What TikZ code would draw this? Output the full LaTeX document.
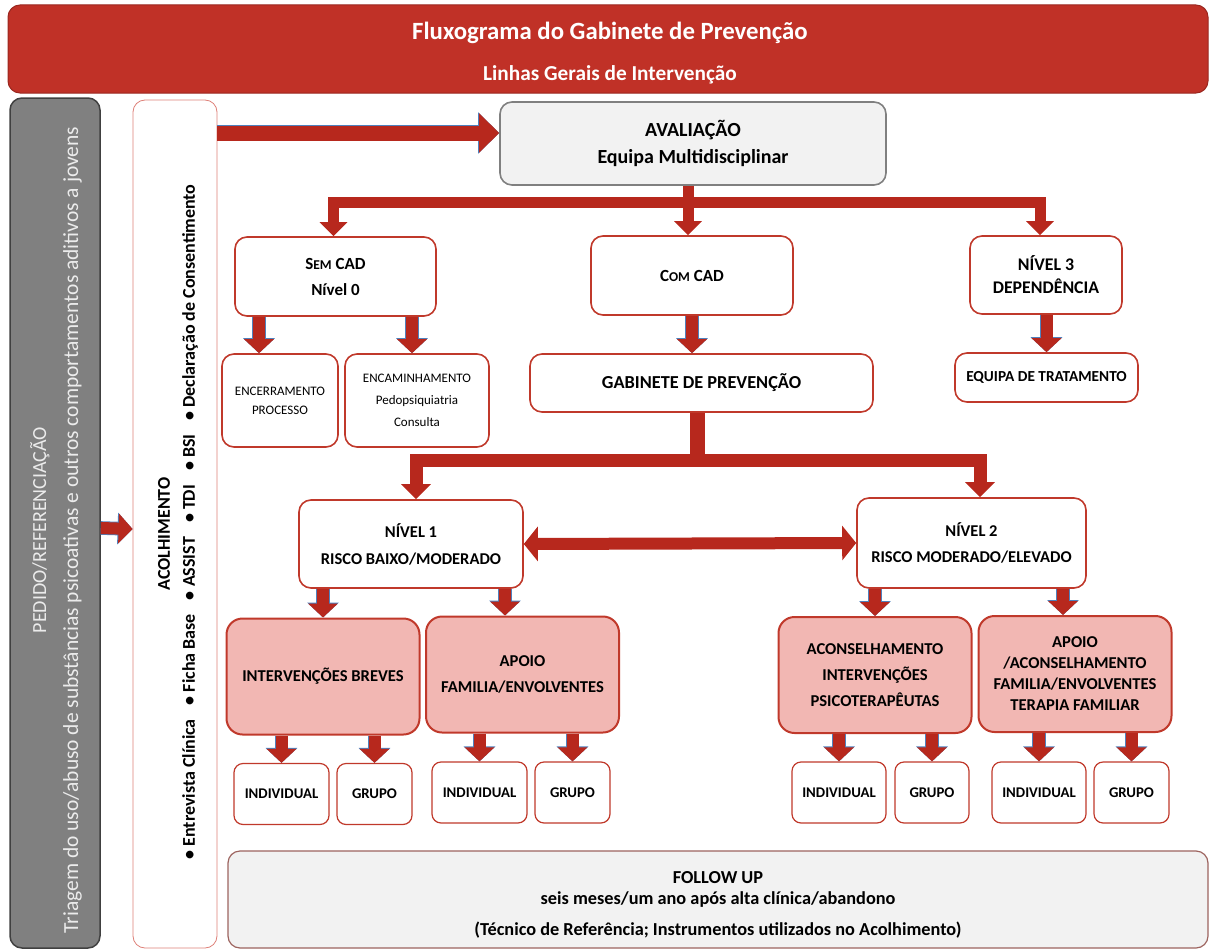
\documentclass[tikz,border=0pt]{standalone}
\usepackage{fontspec}
\setmainfont{Carlito}
\usetikzlibrary{arrows.meta,calc}
\definecolor{bannerred}{RGB}{192,49,39}
\definecolor{arrowred}{RGB}{183,40,29}
\definecolor{boxred}{RGB}{192,57,43}
\definecolor{pinkfill}{RGB}{242,183,179}
\definecolor{lightred}{RGB}{222,128,120}
\definecolor{bargray}{RGB}{128,128,128}
\definecolor{palegray}{RGB}{242,242,242}
\definecolor{blueline}{RGB}{79,129,189}
\newcommand{\fs}[2]{\fontsize{#1}{#2}\selectfont}

\begin{document}
\begin{tikzpicture}[x=1pt, y=-1pt,
    banner/.style={rectangle, draw=bannerred!80!black, fill=bannerred, line width=1pt, rounded corners=12pt},
    bannertext/.style={text=white, inner sep=0pt},
    sidebar/.style={rectangle, draw=black!75, fill=bargray, line width=1.5pt, rounded corners=12pt},
    intake/.style={rectangle, draw=lightred, fill=white, line width=0.8pt, rounded corners=12pt},
    component/.style={rectangle, draw=boxred, line width=1.6pt, fill=white, rounded corners=12pt, align=center, inner sep=2pt, font=\bfseries\fs{17}{26}},
    action/.style={component, fill=pinkfill, line width=2pt, rounded corners=16pt, minimum width=193pt, minimum height=116pt, font=\bfseries\fs{16.6}{26}},
    leaf/.style={component, line width=1.2pt, rounded corners=9pt, minimum height=61pt, font=\bfseries\fs{14.8}{16}},
    followbox/.style={rectangle, draw=boxred!60!black!70, fill=palegray, line width=1.2pt, rounded corners=12pt},
    trunk/.style={draw=arrowred, line width=11pt},
    brancharrow/.style={draw=arrowred, line width=11pt, line join=miter, -{Triangle[width=27pt,length=14pt]}},
    smallarrow/.style={draw=arrowred, line width=12pt, -{Triangle[width=29pt,length=14pt]},
        preaction={draw=blueline, line width=13.6pt, -{Triangle[width=31pt,length=15pt]}}},
    bigarrow/.style={draw=arrowred, line width=15pt, -{Triangle[width=38pt,length=20pt]},
        preaction={draw=blueline, line width=16.6pt, -{Triangle[width=40pt,length=21pt]}}},
    dblarrow/.style={draw=arrowred, line width=12pt, {Triangle[width=34pt,length=14pt]}-{Triangle[width=34pt,length=14pt]}}
]
    \useasboundingbox (0,0) rectangle (1210,950);

    % title
    \node[banner, minimum width=1200pt, minimum height=88pt] (title) at (608,49) {};
    \node[bannertext, font=\bfseries\fs{24.8}{25}] (titleA) at (610,33) {Fluxograma do Gabinete de Prevenção};
    \node[bannertext, font=\bfseries\fs{21.3}{21}] (titleB) at (610,75) {Linhas Gerais de Intervenção};

    % left columns
    \node[sidebar, minimum width=90pt, minimum height=850pt] (pedido) at (55,523) {};
    \node[rotate=90, align=center, text=white!92!black, font=\fs{21.5}{32}] (pedidotxt) at (56,530)
        {{\fs{20}{32}PEDIDO/REFERENCIAÇÃO}\\Triagem do uso/abuso de substâncias psicoativas e outros comportamentos aditivos a jovens};
    \node[intake, minimum width=84pt, minimum height=848pt] (acolh) at (175,524) {};
    \node[rotate=90, align=center, font=\bfseries\fs{18}{25}] (acolhtxt) at (178,522)
        {ACOLHIMENTO\hspace*{24pt}\\\textbullet\ Entrevista Clínica\hspace{14pt}\textbullet\ Ficha Base\hspace{14pt}\textbullet\ ASSIST\hspace{14pt}\textbullet\ TDI\hspace{14pt}\textbullet\ BSI\hspace{14pt}\textbullet\ Declaração de Consentimento};

    % evaluation and levels
    \node[component, fill=palegray, draw=black!50, minimum width=386pt, minimum height=83pt, font=\bfseries\fs{20}{27}] (aval) at (693,143.5) {AVALIAÇÃO\\Equipa Multidisciplinar};
    \node[component, minimum width=201pt, minimum height=79pt] (semcad) at (335.5,276.5) {S{\fs{13.5}{26}EM} CAD\\Nível 0};
    \node[component, minimum width=202pt, minimum height=79pt] (comcad) at (692,275.5) {C{\fs{13.5}{26}OM} CAD};
    \node[component, minimum width=152pt, minimum height=78pt, font=\bfseries\fs{17.8}{23}] (nivel3) at (1046,275) {NÍVEL 3\\DEPENDÊNCIA};

    \node[component, minimum width=116pt, minimum height=93pt, font=\fs{13}{19}] (encerr) at (280,400.5) {ENCERRAMENTO\\PROCESSO};
    \node[component, minimum width=144pt, minimum height=93pt, font=\fs{13}{22}] (encam) at (417,400.5) {ENCAMINHAMENTO\\Pedopsiquiatria\\Consulta};
    \node[component, minimum width=343pt, minimum height=58pt, font=\bfseries\fs{18.3}{26}] (gabinete) at (701.5,383) {GABINETE DE PREVENÇÃO};
    \node[component, minimum width=183pt, minimum height=49pt, font=\bfseries\fs{15.3}{18}] (equipa) at (1046.5,377.5) {EQUIPA DE TRATAMENTO};

    \node[component, minimum width=224pt, minimum height=88pt, font=\bfseries\fs{16.5}{27}] (nivel1) at (411,544) {NÍVEL 1\\RISCO BAIXO/MODERADO};
    \node[component, minimum width=229pt, minimum height=90pt, font=\bfseries\fs{16.5}{26}] (nivel2) at (971.5,543) {NÍVEL 2\\RISCO MODERADO/ELEVADO};

    % interventions
    \node[action] (interv) at (323,676.5) {INTERVENÇÕES BREVES};
    \node[action] (apoioA) at (522.5,674.5) {APOIO\\FAMILIA/ENVOLVENTES};
    \node[action] (acons) at (875,675) {ACONSELHAMENTO\\INTERVENÇÕES\\PSICOTERAPÊUTAS};
    \node[action, font=\bfseries\fs{16.6}{21}] (apoioB) at (1075,674) {APOIO\\/ACONSELHAMENTO\\FAMILIA/ENVOLVENTES\\TERAPIA FAMILIAR};

    \node[leaf, minimum width=95pt] (indA) at (281.5,794) {INDIVIDUAL};
    \node[leaf, minimum width=75pt] (grA) at (374.5,794) {GRUPO};
    \node[leaf, minimum width=95pt] (indB) at (479.5,792.5) {INDIVIDUAL};
    \node[leaf, minimum width=75pt] (grB) at (572.5,792.5) {GRUPO};
    \node[leaf, minimum width=94pt] (indC) at (839,792.5) {INDIVIDUAL};
    \node[leaf, minimum width=74pt] (grC) at (932,792.5) {GRUPO};
    \node[leaf, minimum width=94pt] (indD) at (1039,792.5) {INDIVIDUAL};
    \node[leaf, minimum width=75pt] (grD) at (1131.5,792.5) {GRUPO};

    \node[followbox, minimum width=980pt, minimum height=97pt] (follow) at (718,899.5) {};
    \node[align=center, font=\bfseries\fs{18.3}{21}] (followtxt) at (718,905)
        {FOLLOW UP\\seis meses/um ano após alta clínica/abandono\\[10pt](Técnico de Referência; Instrumentos utilizados no Acolhimento)};

    % connectors
    \draw[smallarrow] ([yshift=-5pt]pedido.east) -- ([yshift=-5pt]acolh.west);
    \coordinate (avalin) at ([yshift=10.5pt]aval.west);
    \draw[bigarrow] (acolh.east |- avalin) -- (avalin);

    \coordinate (fork1) at ($(aval.south)+(-5,17)$);
    \draw[brancharrow] ([xshift=-5pt]aval.south) -- ([xshift=-4pt]comcad.north);
    \draw[brancharrow] (fork1) -| ([xshift=-2pt]semcad.north);
    \draw[brancharrow] (fork1) -| ([xshift=-6pt]nivel3.north);

    \coordinate (fork2) at ($(gabinete.south)+(-4.5,48)$);
    \draw[trunk, line width=15pt] ([xshift=-4.5pt]gabinete.south) -- (fork2);
    \draw[brancharrow, line width=13pt, -{Triangle[width=29pt,length=15pt]}] (fork2) -| ([xshift=5pt]nivel1.north);
    \draw[brancharrow, line width=13pt, -{Triangle[width=29pt,length=15pt]}] (fork2) -| ([xshift=8.5pt]nivel2.north);

    \draw[dblarrow] (nivel1.east) -- (nivel2.west);

    \foreach \from/\to/\dx in {semcad/encerr/-21, semcad/encam/-5, comcad/gabinete/-9.5, nivel3/equipa/0,
        nivel1/interv/0, nivel1/apoioA/-17.5, nivel2/acons/0, nivel2/apoioB/-12,
        interv/indA/0, interv/grA/0, apoioA/indB/0, apoioA/grB/0,
        acons/indC/0, acons/grC/0, apoioB/indD/0, apoioB/grD/0}
        \draw[smallarrow] ([xshift=\dx pt]\to.north |- \from.south) -- ([xshift=\dx pt]\to.north);
\end{tikzpicture}
\end{document}
